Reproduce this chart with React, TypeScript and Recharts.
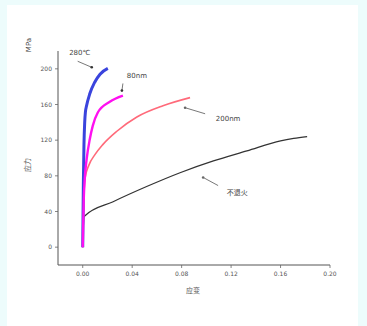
import { LineChart, Line, XAxis, YAxis, ReferenceLine, ReferenceDot } from "recharts";

const annealed280 = [
  { x: 0, y: 0 },
  { x: 0.0005, y: 70 },
  { x: 0.001, y: 115 },
  { x: 0.0016, y: 140 },
  { x: 0.0022, y: 152 },
  { x: 0.003, y: 158 },
  { x: 0.0057, y: 172 },
  { x: 0.0097, y: 185 },
  { x: 0.014, y: 194 },
  { x: 0.0203, y: 200.5 },
];

const grain80 = [
  { x: 0, y: 0 },
  { x: 0.0008, y: 53 },
  { x: 0.0016, y: 76 },
  { x: 0.0032, y: 99 },
  { x: 0.0057, y: 121 },
  { x: 0.0081, y: 136 },
  { x: 0.0122, y: 151 },
  { x: 0.0219, y: 163 },
  { x: 0.0325, y: 170 },
];

const grain200 = [
  { x: 0, y: 0 },
  { x: 0.0008, y: 53 },
  { x: 0.002, y: 78 },
  { x: 0.005, y: 92 },
  { x: 0.01, y: 104 },
  { x: 0.0162, y: 115 },
  { x: 0.0276, y: 130 },
  { x: 0.0438, y: 146 },
  { x: 0.0649, y: 158.6 },
  { x: 0.0868, y: 167.7 },
];

const unannealed = [
  { x: 0, y: 0 },
  { x: 0.001, y: 34 },
  { x: 0.0016, y: 35 },
  { x: 0.0246, y: 51 },
  { x: 0.0517, y: 68 },
  { x: 0.0787, y: 83.5 },
  { x: 0.1057, y: 96.7 },
  { x: 0.1328, y: 108 },
  { x: 0.16, y: 119.3 },
  { x: 0.1706, y: 122 },
  { x: 0.1815, y: 124 },
];

const xTicks = [0, 0.02, 0.04, 0.06, 0.08, 0.1, 0.12, 0.14, 0.16, 0.18, 0.2];
const xLabels = ["0.00", "0.04", "0.08", "0.12", "0.16", "0.20"];
const yTicks = [0, 20, 40, 60, 80, 100, 120, 140, 160, 180, 200];
const yLabels = ["0", "40", "80", "120", "160", "200"];

const tickFont = { fontFamily: "DejaVu Sans", fontSize: 6, fill: "#555" };

const XTick = ({ x, y, payload }: any) => {
  const idx = Math.round(payload.value / 0.02);
  const major = idx % 2 === 0;
  return (
    <g>
      <line x1={x} y1={y} x2={x} y2={y + (major ? 3 : 2)} stroke="#666" strokeWidth={0.8} />
      {major && (
        <text x={x} y={y + 11} textAnchor="middle" {...tickFont}>
          {xLabels[idx / 2]}
        </text>
      )}
    </g>
  );
};

const YTick = ({ x, y, payload }: any) => {
  const idx = Math.round(payload.value / 20);
  const major = idx % 2 === 0;
  return (
    <g>
      <line x1={x} y1={y} x2={x - (major ? 3 : 2)} y2={y} stroke="#666" strokeWidth={0.8} />
      {major && (
        <text x={x - 6} y={y + 2} textAnchor="end" {...tickFont}>
          {yLabels[idx / 2]}
        </text>
      )}
    </g>
  );
};

const annoFont = { fontFamily: "DejaVu Sans", fontSize: 7, fill: "#444" };

export default function App() {
  return (
    <div style={{ position: "absolute", left: 0, top: 0, width: 367, height: 326, background: "#EDFCFC" }}>
      <div style={{ position: "absolute", left: 7, top: 5, width: 351, height: 321, background: "#fff" }} />
      <div style={{ position: "absolute", left: 0, top: 0 }}>
        <LineChart width={367} height={326} margin={{ top: 51, right: 37, bottom: 31, left: 0 }}>
          <XAxis
            type="number"
            dataKey="x"
            domain={[-0.02, 0.2]}
            ticks={xTicks}
            tickSize={0}
            tickMargin={0}
            tick={<XTick />}
            height={30}
            stroke="#555"
            allowDuplicatedCategory={false}
          />
          <YAxis
            type="number"
            dataKey="y"
            domain={[-20, 220]}
            ticks={yTicks}
            tickSize={0}
            tickMargin={0}
            tick={<YTick />}
            width={58}
            stroke="#555"
          />
          <Line data={unannealed} dataKey="y" type="monotone" stroke="#333" strokeWidth={1.2} dot={false} isAnimationActive={false} />
          <Line data={grain200} dataKey="y" type="monotone" stroke="#FF6A7A" strokeWidth={1.6} dot={false} isAnimationActive={false} />
          <Line data={annealed280} dataKey="y" type="monotone" stroke="#3A44DD" strokeWidth={3} dot={false} isAnimationActive={false} />
          <Line data={grain80} dataKey="y" type="monotone" stroke="#FF10F0" strokeWidth={2.4} dot={false} isAnimationActive={false} />

          <ReferenceLine segment={[{ x: -0.0041, y: 208.5 }, { x: 0.0073, y: 201.7 }]} stroke="#555" strokeWidth={0.8} ifOverflow="visible" />
          <ReferenceDot x={0.0073} y={201.7} r={1.3} fill="#333" stroke="none" ifOverflow="visible" />
          <ReferenceLine segment={[{ x: 0.0325, y: 183.6 }, { x: 0.0317, y: 175.6 }]} stroke="#555" strokeWidth={0.8} ifOverflow="visible" />
          <ReferenceDot x={0.0317} y={175.6} r={1.3} fill="#333" stroke="none" ifOverflow="visible" />
          <ReferenceLine segment={[{ x: 0.0828, y: 156.4 }, { x: 0.099, y: 149.6 }]} stroke="#555" strokeWidth={0.8} ifOverflow="visible" />
          <ReferenceDot x={0.0828} y={156.4} r={1.3} fill="#666" stroke="none" ifOverflow="visible" />
          <ReferenceLine segment={[{ x: 0.0974, y: 78.2 }, { x: 0.1095, y: 69.1 }]} stroke="#555" strokeWidth={0.8} ifOverflow="visible" />
          <ReferenceDot x={0.0974} y={78.2} r={1.3} fill="#666" stroke="none" ifOverflow="visible" />

          <ReferenceDot x={-0.0024} y={218} r={0} ifOverflow="visible"
            label={{ value: "280℃", position: "center", ...annoFont }} />
          <ReferenceDot x={0.0438} y={192.6} r={0} ifOverflow="visible"
            label={{ value: "80nm", position: "center", ...annoFont }} />
          <ReferenceDot x={0.1176} y={143.9} r={0} ifOverflow="visible"
            label={{ value: "200nm", position: "center", ...annoFont }} />
          <ReferenceDot x={0.125} y={61} r={0} ifOverflow="visible"
            label={{ value: "不退火", position: "center", ...annoFont, fontFamily: "Noto Sans CJK SC" }} />
        </LineChart>
      </div>
      <svg width={367} height={326} style={{ position: "absolute", left: 0, top: 0, pointerEvents: "none" }}>
        <text x={31} y={45} transform="rotate(-90 31 45)" textAnchor="middle" fontFamily="DejaVu Sans" fontSize={7} fill="#444">MPa</text>
        <text x={30} y={165} transform="rotate(-90 30 165)" textAnchor="middle" fontFamily="Noto Sans CJK SC" fontSize={7} fill="#555">应力</text>
        <text x={193} y={293} textAnchor="middle" fontFamily="Noto Sans CJK SC" fontSize={7} fill="#555">应变</text>
      </svg>
    </div>
  );
}
